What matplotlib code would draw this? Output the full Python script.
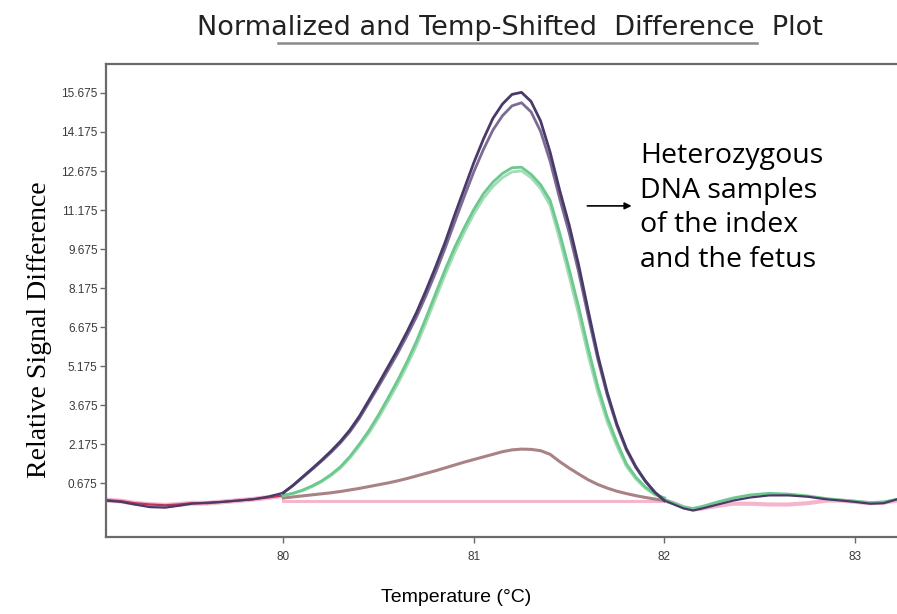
import matplotlib
matplotlib.use('Agg')
import matplotlib.pyplot as plt
from matplotlib.lines import Line2D


# valores (temperatura em °C, diferença de sinal relativa), passo de 0.05 °C
TEMPS = [80.00, 80.05, 80.10, 80.15, 80.20, 80.25, 80.30, 80.35, 80.40, 80.45,
         80.50, 80.55, 80.60, 80.65, 80.70, 80.75, 80.80, 80.85, 80.90, 80.95,
         81.00, 81.05, 81.10, 81.15, 81.20, 81.25, 81.30, 81.35, 81.40, 81.45,
         81.50, 81.55, 81.60, 81.65, 81.70, 81.75, 81.80, 81.85, 81.90, 81.95, 82.00]

ROXO_1 = [0.30, 0.58, 0.90, 1.22, 1.55, 1.90, 2.28, 2.72, 3.25, 3.87,
          4.50, 5.15, 5.80, 6.50, 7.25, 8.10, 9.00, 9.95, 11.00, 12.00,
          13.00, 13.90, 14.70, 15.25, 15.62, 15.70, 15.35, 14.60, 13.40, 11.94,
          10.60, 9.05, 7.30, 5.60, 4.15, 2.95, 2.00, 1.30, 0.75, 0.32, 0.00]
ROXO_2 = [0.30, 0.57, 0.88, 1.19, 1.51, 1.85, 2.22, 2.65, 3.17, 3.78,
          4.39, 5.02, 5.66, 6.35, 7.08, 7.90, 8.78, 9.72, 10.72, 11.70,
          12.65, 13.50, 14.25, 14.80, 15.18, 15.30, 14.95, 14.20, 13.05, 11.62,
          10.30, 8.78, 7.08, 5.45, 4.05, 2.88, 1.95, 1.27, 0.74, 0.31, 0.00]
VERDE_1 = [0.20, 0.28, 0.40, 0.56, 0.75, 1.00, 1.30, 1.70, 2.18, 2.70,
           3.30, 3.95, 4.62, 5.35, 6.15, 7.05, 7.98, 8.90, 9.75, 10.50,
           11.20, 11.80, 12.25, 12.58, 12.80, 12.82, 12.55, 12.15, 11.55, 10.30,
           8.90, 7.44, 5.85, 4.40, 3.20, 2.25, 1.42, 0.90, 0.52, 0.25, 0.10]
VERDE_2 = [0.20, 0.27, 0.38, 0.53, 0.72, 0.96, 1.25, 1.64, 2.10, 2.60,
           3.18, 3.82, 4.48, 5.20, 5.98, 6.86, 7.78, 8.70, 9.55, 10.32,
           11.02, 11.62, 12.08, 12.42, 12.64, 12.68, 12.42, 12.00, 11.35, 10.05,
           8.62, 7.15, 5.58, 4.18, 3.02, 2.10, 1.32, 0.83, 0.47, 0.22, 0.10]
MARROM = [0.10, 0.14, 0.18, 0.22, 0.26, 0.30, 0.35, 0.41, 0.47, 0.54,
          0.61, 0.68, 0.76, 0.85, 0.95, 1.05, 1.15, 1.26, 1.37, 1.48,
          1.58, 1.68, 1.78, 1.88, 1.95, 1.98, 1.97, 1.92, 1.78, 1.50,
          1.25, 1.02, 0.80, 0.62, 0.48, 0.36, 0.27, 0.19, 0.12, 0.06, 0.00]
ROSA = [0.0] * len(TEMPS)

# ruído da linha de base antes de 80 °C e depois de 82 °C
TEMPS_ESQ = [79.07, 79.15, 79.22, 79.3, 79.38, 79.45, 79.52, 79.6, 79.68, 79.76, 79.84, 79.92, 80.0]
BASE_ESQ_ROXO = [0.0, -0.05, -0.15, -0.25, -0.27, -0.2, -0.12, -0.08, -0.05, 0.0, 0.05, 0.15, 0.3]
BASE_ESQ_VERM = [0.02, -0.02, -0.1, -0.15, -0.18, -0.15, -0.1, -0.1, -0.05, 0.0, 0.05, 0.12, 0.2]

TEMPS_DIR = [82.0, 82.05, 82.1, 82.15, 82.2, 82.28, 82.36, 82.45, 82.55, 82.65, 82.75, 82.85,
             82.93, 83.0, 83.08, 83.15, 83.22]
BASE_DIR_ROXO = [0.0, -0.15, -0.3, -0.38, -0.3, -0.15, 0.0, 0.12, 0.2, 0.2, 0.15, 0.05,
                 0.0, -0.05, -0.12, -0.1, 0.05]
BASE_DIR_VERDE = [0.05, -0.1, -0.25, -0.3, -0.22, -0.05, 0.1, 0.22, 0.28, 0.25, 0.18, 0.08,
                  0.02, -0.02, -0.08, -0.05, 0.05]
BASE_DIR_ROSA = [0.0, -0.1, -0.25, -0.35, -0.3, -0.2, -0.12, -0.12, -0.15, -0.15, -0.1, 0.0,
                 0.0, -0.05, -0.1, -0.08, 0.0]

Y_TICKS = [0.675, 2.175, 3.675, 5.175, 6.675, 8.175, 9.675, 11.175, 12.675, 14.175, 15.675]
X_TICKS = [80, 81, 82, 83]

COR_ROXO_1 = '#4a3a6a'
COR_ROXO_2 = '#7c6c94'
COR_VERDE_1 = '#6cc98e'
COR_VERDE_2 = '#a3dcb7'
COR_MARROM = '#a98384'
COR_ROSA = '#f3b6cd'
COR_VERM = '#b8365a'
EIXO = '#6a6a6a'

fig = plt.figure(figsize=(8.97, 6.14), dpi=100)
ax = fig.add_axes([106 / 897, 1 - 537 / 614, 791 / 897, 473 / 614])

ax.plot(TEMPS, ROSA, color=COR_ROSA, linewidth=2.2)
ax.plot(TEMPS_DIR, BASE_DIR_ROSA, color=COR_ROSA, linewidth=3)
ax.plot(TEMPS_ESQ, BASE_ESQ_VERM, color=COR_ROSA, linewidth=3.5)
ax.plot(TEMPS_ESQ, BASE_ESQ_VERM, color=COR_VERM, linewidth=1.6)
ax.plot(TEMPS_ESQ, BASE_ESQ_ROXO, color=COR_ROXO_1, linewidth=1.6)
ax.plot(TEMPS_DIR, BASE_DIR_VERDE, color=COR_VERDE_1, linewidth=2)
ax.plot(TEMPS_DIR, BASE_DIR_ROXO, color=COR_ROXO_1, linewidth=1.6)

ax.plot(TEMPS, MARROM, color=COR_MARROM, linewidth=2.2)
ax.plot(TEMPS, VERDE_2, color=COR_VERDE_2, linewidth=2)
ax.plot(TEMPS, VERDE_1, color=COR_VERDE_1, linewidth=2)
ax.plot(TEMPS, ROXO_2, color=COR_ROXO_2, linewidth=2)
ax.plot(TEMPS, ROXO_1, color=COR_ROXO_1, linewidth=2)

ax.set_xlim(79.07, 83.22)
ax.set_ylim(-1.4, 16.79)
ax.set_yticks(Y_TICKS)
ax.set_yticklabels([f'{v:.3f}' for v in Y_TICKS])
ax.set_xticks(X_TICKS)
ax.set_xticklabels([str(v) for v in X_TICKS])
ax.tick_params(length=4, width=1, color=EIXO, labelcolor='#3a3a3a', labelsize=8.5, pad=2)
for lbl in ax.get_xticklabels() + ax.get_yticklabels():
    lbl.set_family(['Liberation Sans', 'DejaVu Sans'])
ax.tick_params(axis='x', pad=6)

ax.spines['right'].set_visible(False)
for lado in ('left', 'top', 'bottom'):
    ax.spines[lado].set_color(EIXO)
    ax.spines[lado].set_linewidth(1.6)

ax.annotate('', xy=(0.668, 0.70), xytext=(0.605, 0.70), xycoords='axes fraction',
            arrowprops=dict(arrowstyle='-|>', color='black', lw=1.2, mutation_scale=10))
ax.text(0.675, 0.835, 'Heterozygous\nDNA samples\nof the index\nand the fetus',
        transform=ax.transAxes, ha='left', va='top', fontsize=20.5,
        family=['Open Sans', 'DejaVu Sans'], linespacing=1.32, color='black')

fig.text(0.569, 0.955, 'Normalized and Temp-Shifted  Difference  Plot', ha='center', va='center',
         fontsize=19.5, family=['DejaVu Sans'], color='#222222')
fig.add_artist(Line2D([278 / 897, 757 / 897], [1 - 43 / 614, 1 - 43 / 614],
                      color='#8a8a8a', linewidth=1.8))

fig.text(40 / 897, 1 - 330 / 614, 'Relative Signal Difference', rotation=90, ha='center',
         va='center', fontsize=20, family=['Liberation Serif', 'DejaVu Serif'], color='black')
fig.text(456 / 897, 1 - 597 / 614, 'Temperature (°C)', ha='center', va='center', fontsize=14,
         family=['Liberation Sans', 'DejaVu Sans'], color='black')

fig.savefig('out.png', dpi=100)
plt.close(fig)
